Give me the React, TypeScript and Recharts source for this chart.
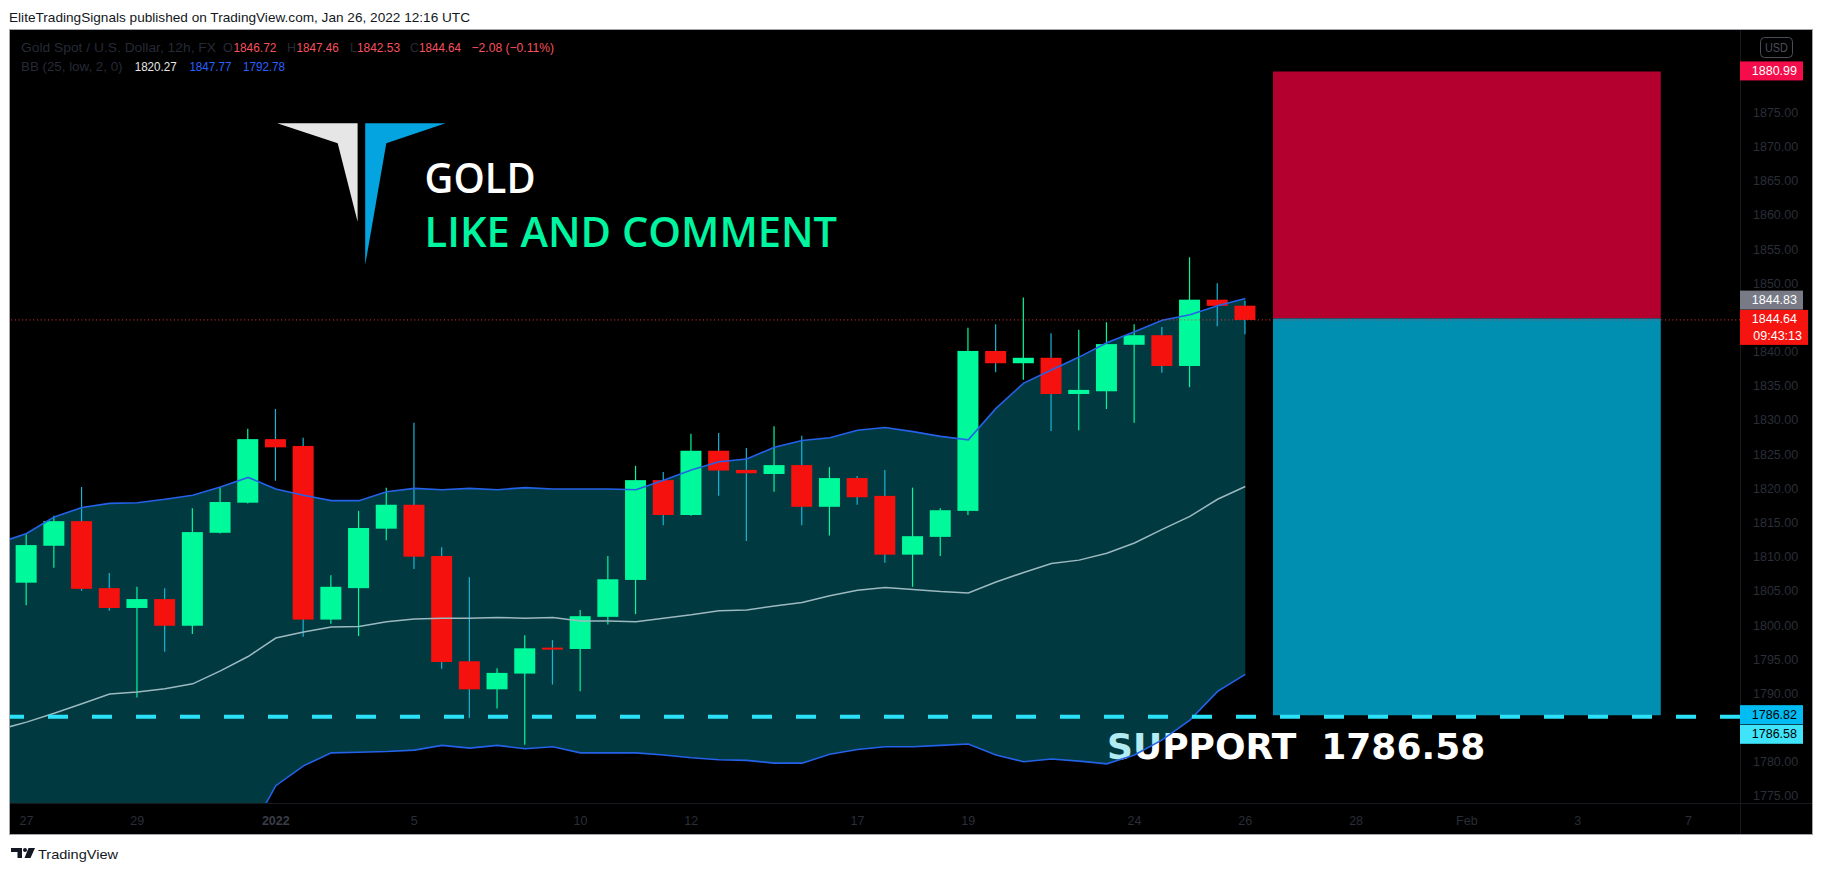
import React from 'react';
import { ComposedChart, XAxis, YAxis, Bar, Line, Area, ReferenceLine, ReferenceArea } from 'recharts';

const W = 1823;
const H = 874;
const FONT = "'Liberation Sans', Arial, sans-serif";

// ---- Candles (12h, Dec 27 2021 .. Jan 26 2022), index 0..44
const candleOpen = [1806.2,1811.6,1815.2,1805.4,1802.5,1803.8,1799.9,1813.5,1817.9,1827.2,1826.2,1800.8,1805.4,1814.1,1817.6,1810.1,1794.7,1790.6,1792.9,1796.7,1796.5,1801.2,1806.6,1821.2,1816.1,1825.5,1822.7,1822.1,1823.4,1817.3,1821.5,1818.9,1810.3,1812.9,1816.7,1840.1,1838.3,1839.1,1833.8,1834.2,1841.0,1842.4,1837.9,1847.6,1846.72];
const candleHigh = [1813.3,1816.0,1820.2,1807.6,1805.6,1805.4,1817.1,1820.2,1828.7,1831.6,1827.4,1807.3,1816.7,1820.1,1829.6,1811.4,1807.0,1793.7,1798.5,1797.8,1802.2,1810.1,1823.3,1822.4,1828.0,1828.1,1825.9,1829.1,1827.7,1823.1,1821.8,1822.7,1820.1,1817.1,1843.5,1844.0,1847.9,1842.7,1843.2,1844.3,1844.0,1843.6,1853.8,1850.0,1847.46];
const candleLow = [1802.9,1808.4,1805.0,1802.1,1789.4,1796.1,1798.7,1813.4,1817.8,1821.1,1798.3,1800.2,1798.4,1812.4,1808.2,1793.6,1786.4,1787.8,1782.5,1791.3,1790.3,1800.1,1801.6,1814.6,1816.0,1818.9,1812.3,1819.5,1814.6,1813.1,1817.6,1809.1,1805.6,1810.1,1816.1,1837.0,1835.9,1828.4,1828.5,1831.6,1829.6,1836.9,1834.8,1843.7,1842.53];
const candleClose = [1811.7,1815.2,1805.3,1802.5,1803.8,1799.9,1813.6,1818.0,1827.2,1826.0,1800.8,1805.6,1814.2,1817.6,1810.0,1794.6,1790.6,1793.0,1796.6,1796.5,1801.3,1806.7,1821.2,1816.1,1825.5,1822.6,1822.2,1823.4,1817.3,1821.5,1818.7,1810.3,1813.0,1816.8,1840.1,1838.3,1839.1,1833.8,1834.4,1841.1,1842.4,1837.9,1847.6,1846.7,1844.64];

// ---- Bollinger Bands (25, low, 2), index -1..44
const bandIndex = [-1,0,1,2,3,4,5,6,7,8,9,10,11,12,13,14,15,16,17,18,19,20,21,22,23,24,25,26,27,28,29,30,31,32,33,34,35,36,37,38,39,40,41,42,43,44];
const bbUpper = [1812.0,1813.4,1815.8,1817.2,1817.8,1817.9,1818.4,1819.0,1820.2,1821.6,1819.9,1819.0,1818.2,1818.2,1819.5,1820.0,1819.8,1820.0,1819.8,1820.1,1819.9,1819.9,1819.9,1819.8,1821.2,1822.7,1823.9,1824.3,1826.0,1827.0,1827.4,1828.5,1828.9,1828.3,1827.6,1827.1,1831.7,1835.4,1837.3,1839.2,1841.3,1842.9,1844.6,1845.4,1846.7,1847.77];
const bbBasis = [1784.7,1785.8,1787.1,1788.5,1789.9,1790.2,1790.7,1791.4,1793.3,1795.4,1798.1,1799.0,1799.7,1799.8,1800.5,1800.9,1801.0,1801.0,1801.1,1801.0,1801.1,1800.6,1800.6,1800.5,1801.0,1801.5,1802.1,1802.2,1802.8,1803.3,1804.3,1805.1,1805.5,1805.2,1804.9,1804.7,1806.3,1807.7,1809.0,1809.5,1810.5,1812.0,1814.0,1815.9,1818.4,1820.27];
const bbLower = [1757.4,1758.2,1758.4,1759.8,1762.0,1762.5,1763.0,1763.8,1766.4,1769.2,1776.5,1779.4,1781.3,1781.4,1781.5,1781.7,1782.4,1782.0,1782.4,1781.9,1782.2,1781.3,1781.3,1781.3,1781.0,1780.6,1780.3,1780.2,1779.8,1779.8,1781.1,1781.8,1782.2,1782.2,1782.4,1782.6,1781.0,1780.0,1780.4,1780.1,1779.7,1781.0,1783.2,1786.1,1790.3,1792.78];

// ---- Axes (price labels hidden under the tags in the reference are left out)
const timeTickIndex = [0,4,9,14,20,24,30,34,40,44,48,52,56,60];
const timeTickLabels = ['27','29','2022','5','10','12','17','19','24','26','28','Feb','3','7'];
const priceTicks = [1775,1780,1790,1795,1800,1805,1810,1815,1820,1825,1830,1835,1840,1850,1855,1860,1865,1870,1875];

// ---- Levels
const targetPrice = 1880.99;
const entryPrice = 1844.83;
const lastPrice = 1844.64;
const stopPrice = 1786.82;
const supportPrice = 1786.58;
const boxStart = 45;
const boxEnd = 59;

const rows = bandIndex.map((i, k) => ({
  i,
  upper: bbUpper[k],
  basis: bbBasis[k],
  lower: bbLower[k],
  open: i >= 0 ? candleOpen[i] : null,
  high: i >= 0 ? candleHigh[i] : null,
  low: i >= 0 ? candleLow[i] : null,
  close: i >= 0 ? candleClose[i] : null,
}));

const GREEN = '#00F99A';
const RED = '#F5120E';
const RED_WICK = '#1AB4D6';

function Candle(props: any) {
  const { x, y, width, height, payload } = props;
  if (!payload || payload.open == null || !isFinite(y) || !isFinite(height)) return null;
  const top = Math.min(y, y + height);
  const h = Math.abs(height);
  const { open, close, high, low } = payload;
  const range = high - low || 1;
  const py = (p: number) => top + ((high - p) / range) * h;
  const up = close >= open;
  const bTop = py(Math.max(open, close));
  const bBot = py(Math.min(open, close));
  const cx = x + width / 2;
  const bh = Math.max(bBot - bTop, 2);
  return (
    <g>
      <line x1={cx} x2={cx} y1={top} y2={top + h} stroke={up ? GREEN : RED_WICK} strokeWidth={1.2} />
      <rect x={x} y={bTop} width={width} height={bh} fill={up ? GREEN : RED} />
    </g>
  );
}

function XTick(props: any) {
  const { x, y, payload } = props;
  const k = timeTickIndex.indexOf(payload.value);
  const label = k >= 0 ? timeTickLabels[k] : '';
  const bold = label === '2022';
  return (
    <text x={x} y={y} dy={9} textAnchor="middle" fontSize={12.5} fontFamily={FONT}
      fontWeight={bold ? 700 : 400} fill={bold ? '#3A3E49' : '#2A2E39'}>{label}</text>
  );
}

function YTick(props: any) {
  const { x, y, payload } = props;
  return (
    <text x={x} y={y} dy={4.5} textAnchor="start" fontSize={12.5} fontFamily={FONT} fill="#2A2E39">
      {Number(payload.value).toFixed(2)}
    </text>
  );
}

function PriceTag(props: any) {
  const { viewBox, text, text2, bg, fg, shift = 0, w = 63 } = props;
  if (!viewBox) return null;
  const x = viewBox.x + viewBox.width;
  const y = viewBox.y + shift;
  const h = text2 ? 35 : 19;
  const top = y - 10;
  return (
    <g>
      <rect x={x} y={top} width={w} height={h} fill={bg} />
      <text x={x + 57} y={top + 13.5} textAnchor="end" fontSize={12.5} fontFamily={FONT} fill={fg}>{text}</text>
      {text2 ? (
        <text x={x + 62} y={top + 30} textAnchor="end" fontSize={12.5} fontFamily={FONT} fill={fg}>{text2}</text>
      ) : null}
    </g>
  );
}

function T(props: any) {
  const { x, y, w, fill, size = 12.5, weight = 400, children, family = FONT } = props;
  return (
    <text x={x} y={y} fill={fill} fontSize={size} fontWeight={weight} fontFamily={family}
      {...(w ? { textLength: w, lengthAdjust: 'spacingAndGlyphs' } : {})}>{children}</text>
  );
}

export default function App() {
  const abs: React.CSSProperties = { position: 'absolute', left: 0, top: 0 };
  return (
    <div style={{ position: 'fixed', left: 0, top: 0, width: W, height: H, background: '#FFFFFF', overflow: 'hidden' }}>
      {/* background layer */}
      <svg width={W} height={H} style={abs}>
        <rect x={9.5} y={29.5} width={1803} height={805} fill="#000000" stroke="#A3A6AD" strokeWidth={1} />
        <line x1={1740.5} x2={1740.5} y1={30} y2={834} stroke="#17191E" strokeWidth={1} />
        <line x1={10} x2={1812} y1={803.5} y2={803.5} stroke="#17191E" strokeWidth={1} />
        <T x={9} y={22} w={461} fill="#131722" size={13.5}>EliteTradingSignals published on TradingView.com, Jan 26, 2022 12:16 UTC</T>
        {/* logo */}
        <polygon points="277.2,123.3 357.6,123.3 357.6,221.7 337.7,143.3" fill="#E6E6E6" />
        <polygon points="365.2,123.3 445.6,123.3 386.3,143.3 365.2,265" fill="#03A4E0" />
        <T x={424.6} y={193.3} w={111} fill="#FFFFFF" size={42} weight={600} family="'Open Sans', 'Liberation Sans', sans-serif">GOLD</T>
        <T x={424.6} y={247.3} w={412.5} fill="#00F5A0" size={42} weight={600} family="'Open Sans', 'Liberation Sans', sans-serif">LIKE AND COMMENT</T>
        <text x={1107} y={759.3} fill="#FFFFFF" fontSize={36} fontWeight={700} fontFamily="'DejaVu Sans', sans-serif">{'SUPPORT\u00A0\u00A01786.58'}</text>
        {/* TradingView footer */}
        <polygon points="11,848 22,848 22,858 17.5,858 17.5,852 11,852" fill="#131722" />
        <circle cx={25} cy={850} r={2} fill="#131722" />
        <polygon points="28.5,848 35,848 30.5,858 24.5,858" fill="#131722" />
        <T x={38} y={858.5} w={80} fill="#131722" size={13.5}>TradingView</T>
      </svg>

      <div style={abs}>
        <ComposedChart width={W} height={H} data={rows} margin={{ top: 30, right: 11, bottom: 41, left: 10 }}>
          <XAxis dataKey="i" type="number" domain={[-0.596, 61.86]} allowDataOverflow ticks={timeTickIndex}
            interval={0} tick={<XTick />} tickSize={0} tickMargin={13} tickLine={false} axisLine={false} height={30} />
          <YAxis orientation="right" type="number" domain={[1773.97, 1887.05]} allowDataOverflow ticks={priceTicks}
            interval={0} tick={<YTick />} tickSize={0} tickMargin={13} tickLine={false} axisLine={false} width={72} />
          <Area dataKey={(d: any) => [d.lower, d.upper]} type="linear" stroke="none" fill="#00BCD4" fillOpacity={0.3}
            isAnimationActive={false} activeDot={false} />
          <Line dataKey="upper" type="linear" stroke="#2462E8" strokeWidth={1.6} dot={false} activeDot={false} isAnimationActive={false} />
          <Line dataKey="lower" type="linear" stroke="#2462E8" strokeWidth={1.6} dot={false} activeDot={false} isAnimationActive={false} />
          <Line dataKey="basis" type="linear" stroke="#9CB9C0" strokeWidth={1.5} dot={false} activeDot={false} isAnimationActive={false} />
          <Bar dataKey={(d: any) => (d.open == null ? null : [d.low, d.high])} barSize={21}
            shape={(p: any) => <Candle {...p} />} isAnimationActive={false} />
          <ReferenceArea x1={boxStart} x2={boxEnd} y1={entryPrice} y2={targetPrice} fill="#B4002F" fillOpacity={1} stroke="none" />
          <ReferenceArea x1={boxStart} x2={boxEnd} y1={stopPrice} y2={entryPrice} fill="#008EB1" fillOpacity={1} stroke="none" />
          <ReferenceLine y={supportPrice} stroke="#2BE1F7" strokeWidth={4} strokeDasharray="20 24"
            label={<PriceTag text="1786.58" bg="#3FE4FB" fg="#000000" shift={18} />} />
          <ReferenceLine y={stopPrice} stroke="transparent" strokeWidth={0}
            label={<PriceTag text="1786.82" bg="#00BCF2" fg="#000000" />} />
          <ReferenceLine y={targetPrice} stroke="transparent" strokeWidth={0}
            label={<PriceTag text="1880.99" bg="#F50D4B" fg="#FFFFFF" />} />
          <ReferenceLine y={entryPrice} stroke="transparent" strokeWidth={0}
            label={<PriceTag text="1844.83" bg="#787B86" fg="#FFFFFF" shift={-18} />} />
          <ReferenceLine y={lastPrice} stroke="#E8383A" strokeWidth={1} strokeDasharray="1 2.7"
            label={<PriceTag text="1844.64" text2="09:43:13" bg="#F5140F" fg="#FFFFFF" w={68} />} />
        </ComposedChart>
      </div>

      {/* overlay layer */}
      <svg width={W} height={H} style={{ ...abs, pointerEvents: 'none' }}>
        <T x={21} y={52} w={195} fill="#252A36">Gold Spot / U.S. Dollar, 12h, FX</T>
        <T x={223} y={52} fill="#252A36">O</T>
        <T x={233.4} y={52} w={43} fill="#F7525F">1846.72</T>
        <T x={287} y={52} fill="#252A36">H</T>
        <T x={296.6} y={52} w={42} fill="#F7525F">1847.46</T>
        <T x={350} y={52} fill="#252A36">L</T>
        <T x={357} y={52} w={43} fill="#F7525F">1842.53</T>
        <T x={410} y={52} fill="#252A36">C</T>
        <T x={419} y={52} w={42} fill="#F7525F">1844.64</T>
        <T x={471.5} y={52} w={82.5} fill="#F7525F">{'\u22122.08 (\u22120.11%)'}</T>
        <T x={21} y={71} w={101.5} fill="#252A36">BB (25, low, 2, 0)</T>
        <T x={134.7} y={71} w={42} fill="#E6E6E6">1820.27</T>
        <T x={189.4} y={71} w={42} fill="#2962FF">1847.77</T>
        <T x={243} y={71} w={42} fill="#2962FF">1792.78</T>
        <rect x={1760.5} y={37.5} width={32} height={20} rx={4} fill="#000000" stroke="#4A4E59" strokeWidth={1} />
        <T x={1765} y={52} w={23} fill="#4A4E59">USD</T>
      </svg>
    </div>
  );
}
